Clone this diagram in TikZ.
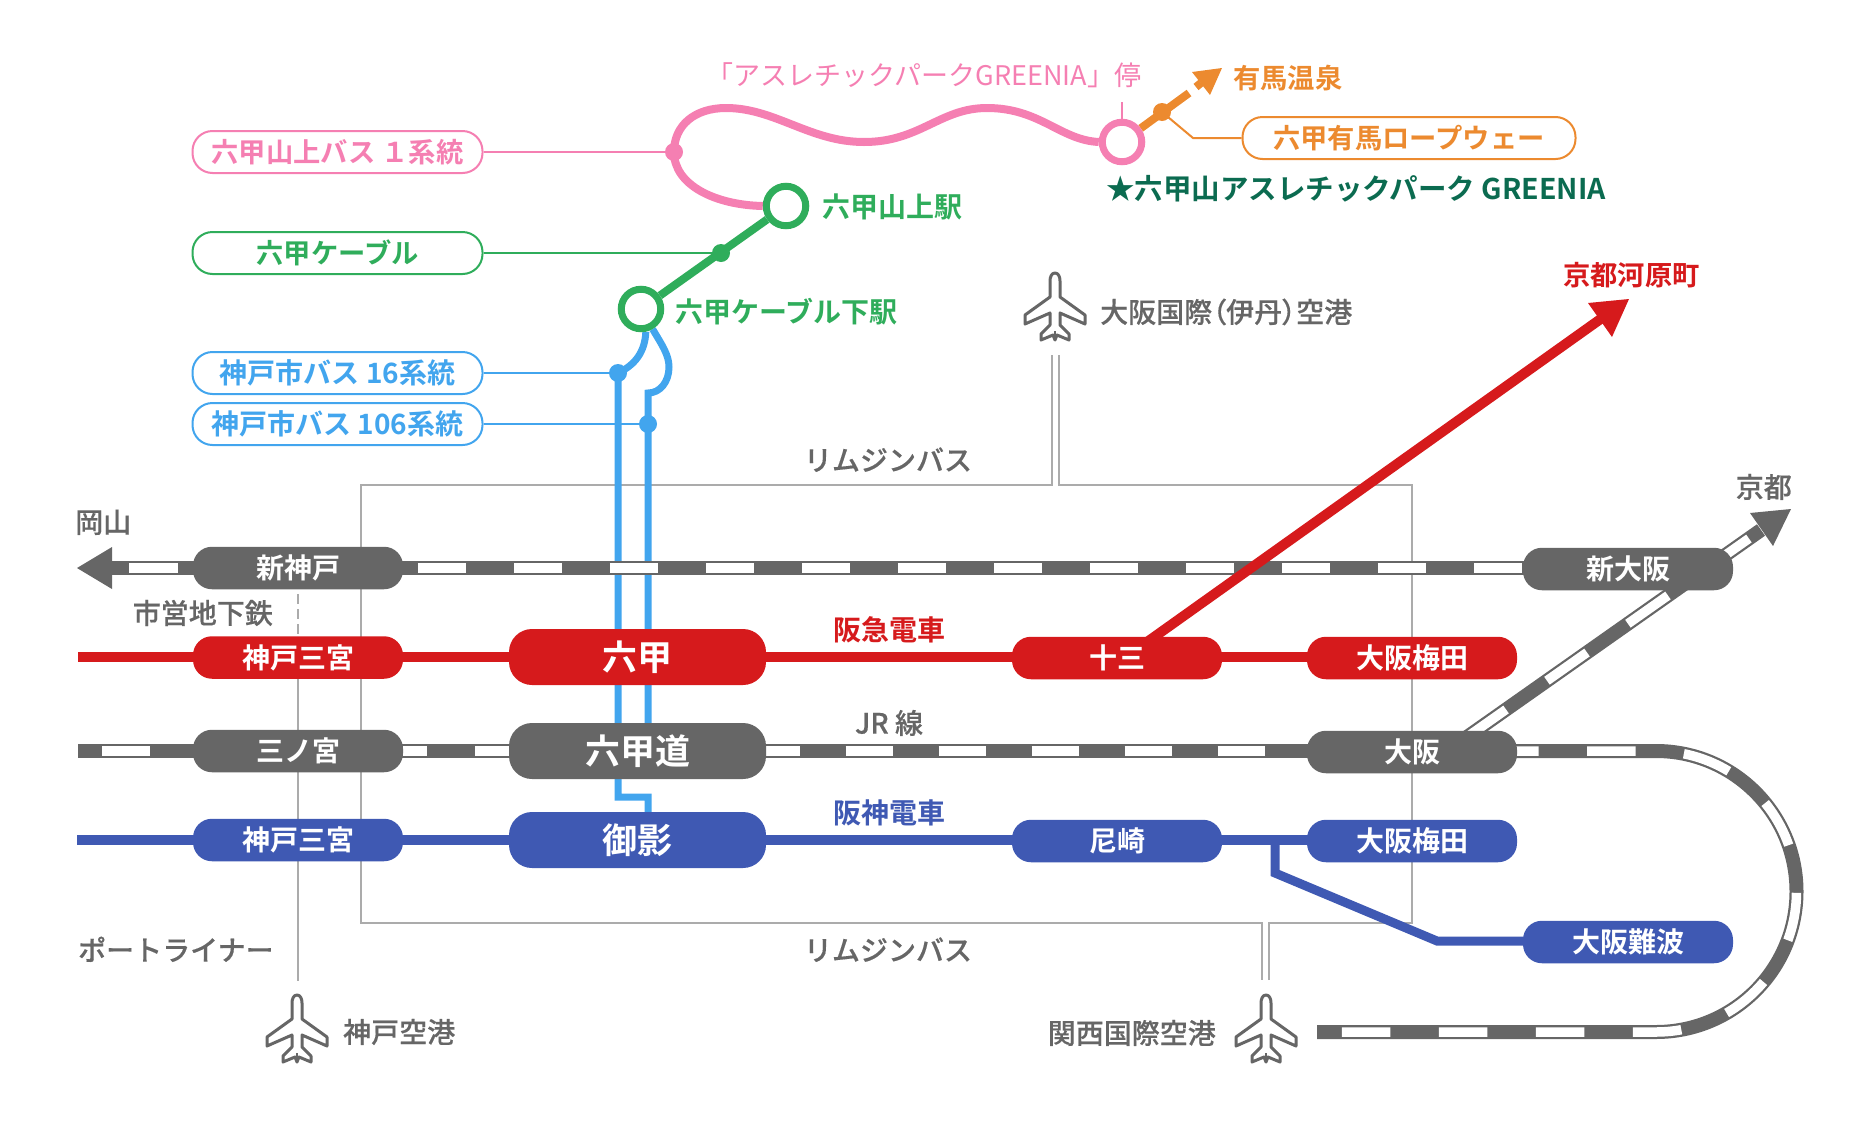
\documentclass[tikz,border=0pt]{standalone}
\usepackage{fontspec}
\setmainfont{Noto Sans CJK JP}
\newfontfamily\medf[FakeBold=0.3]{Noto Sans CJK JP Medium}
\newfontfamily\medp[FakeBold=0.3,RawFeature=+palt]{Noto Sans CJK JP Medium}
\newfontfamily\boldf{Noto Sans CJK JP Bold}
\definecolor{cgray}{HTML}{666666}
\definecolor{cbox}{HTML}{ABABAB}
\definecolor{cred}{HTML}{D61A1C}
\definecolor{cblue}{HTML}{3F59B3}
\definecolor{csky}{HTML}{42A5EE}
\definecolor{cgreen}{HTML}{2FAD5B}
\definecolor{cpink}{HTML}{F57FB2}
\definecolor{corange}{HTML}{EC8A2F}
\definecolor{cdeep}{HTML}{0B6B50}
\pgfdeclarelayer{boxl}\pgfdeclarelayer{busl}\pgfdeclarelayer{raill}
\pgfsetlayers{boxl,busl,raill,main}
\tikzset{
  fa/.style={font=\boldf\fontsize{28pt}{28pt}\selectfont,inner sep=0pt,text height=24.6pt,text depth=3.4pt},
  fb/.style={font=\boldf\fontsize{27.3pt}{27.3pt}\selectfont},
  fm/.style={font=\medf\fontsize{28pt}{28pt}\selectfont,inner sep=0pt,text height=24.6pt,text depth=3.4pt},
  fl/.style={font=\fontsize{27pt}{27pt}\selectfont,inner sep=0pt,text height=23.8pt,text depth=3.2pt},
  spill/.style={fa,text=white,minimum width=210pt,minimum height=42.5pt,rounded corners=19pt},
  bpill/.style={font=\boldf\fontsize{35pt}{35pt}\selectfont,inner sep=0pt,text height=30.8pt,text depth=4.2pt,text=white,minimum width=257pt,minimum height=56pt,rounded corners=23pt},
  opill/.style={fa,draw=#1,text=#1,fill=white,line width=2pt,rounded corners=20pt,minimum height=42pt,minimum width=290pt},
  sta/.style={circle,draw=#1,fill=white,line width=7pt,minimum size=39.5pt,inner sep=0pt},
  dotn/.style={circle,fill=#1,minimum size=18pt,inner sep=0pt},
  railbase/.style={draw=cgray,line width=14pt},
  railwhite/.style={draw=white,line width=9.5pt},
  boxline/.style={draw=cbox,line width=2pt},
  planeicon/.pic={
    \draw[draw=cgray,fill=white,line width=3pt,line join=round]
      (0,0) .. controls (3.5,0) and (5,4) .. (5,8) -- (5,24) -- (30,42) -- (30,51) -- (5,40) -- (5,52) -- (14,61) -- (14,67) -- (2,62) -- (0,67)
      -- (-2,62) -- (-14,67) -- (-14,61) -- (-5,52) -- (-5,40) -- (-30,51) -- (-30,42) -- (-5,24) -- (-5,8) .. controls (-5,4) and (-3.5,0) .. (0,0) -- cycle;
    \draw[draw=cgray,line width=2.5pt] (0,58) -- (0,67);
  },
}
\newcommand{\railline}[3]{\draw[railbase] #3; \draw[railwhite,dash pattern=#1,dash phase=#2] #3;}
\begin{document}
\begin{tikzpicture}[x=1pt,y=-1pt]
\useasboundingbox (0,0) rectangle (1875,1125);
% stations: pills
\node[spill,fill=cgray] (shinkobe) at (298,568) {新神戸};
\node[spill,fill=cgray] (shinosaka) at (1628,569) {新大阪};
\node[spill,fill=cred] (hkkobe) at (298,657.5) {神戸三宮};
\node[bpill,fill=cred] (rokko) at (637.5,657) {六甲};
\node[spill,fill=cred] (juso) at (1117,658) {十三};
\node[spill,fill=cred] (hkumeda) at (1412,658) {大阪梅田};
\node[spill,fill=cgray] (sannomiya) at (298,751) {三ノ宮};
\node[bpill,fill=cgray] (rokkomichi) at (637.5,751) {六甲道};
\node[spill,fill=cgray] (osaka) at (1412,752) {大阪};
\node[spill,fill=cblue] (hskobe) at (298,840) {神戸三宮};
\node[bpill,fill=cblue] (mikage) at (637.5,840) {御影};
\node[spill,fill=cblue] (amagasaki) at (1117,841) {尼崎};
\node[spill,fill=cblue] (hsumeda) at (1412,841) {大阪梅田};
\node[spill,fill=cblue] (namba) at (1628,942) {大阪難波};
% outlined pills
\node[opill=cpink,fb] (busone) at (337.5,152) {六甲山上バス １系統};
\node[opill=cgreen,fb] (cable) at (337.5,253) {六甲ケーブル};
\node[opill=csky] (bussixteen) at (337.5,373) {神戸市バス 16系統};
\node[opill=csky] (busoneosix) at (337.5,424) {神戸市バス 106系統};
\node[opill=corange,fb,minimum width=333pt] (ropeway) at (1409,138) {六甲有馬ロープウェー};
% stops
\node[sta=cgreen] (cablelow) at (641,309) {};
\node[sta=cgreen] (cabletop) at (786,206) {};
\node[sta=cpink] (greenia) at (1122,142) {};
\node[dotn=cpink] (dpink) at (674,152) {};
\node[dotn=cgreen] (dgreen) at (721,253) {};
\node[dotn=csky] (dsixteen) at (618,373) {};
\node[dotn=csky] (doneosix) at (648,424) {};
\node[dotn=corange] (dorange) at (1162,112) {};
% free ends
\coordinate (itamil) at (1051.5,355); \coordinate (itamir) at (1059,355);
\coordinate (kixl) at (1262,980); \coordinate (kixr) at (1268.5,980);
\coordinate (tl) at (361,485); \coordinate (tr) at (1412,485);
\coordinate (bl) at (361,923); \coordinate (br) at (1412,923);
\coordinate (kobeend) at (298,981);
\coordinate (okbase) at (112,568);
\coordinate (kybase) at (1761,530);
\coordinate (diagstart) at (1466,737.7);
\coordinate (jrwest) at (78,751);
\coordinate (jrend) at (1317,1032);
\coordinate (hkwest) at (78,657);
\coordinate (hswest) at (77,840);
\coordinate (redstart) at (1126,657);
\coordinate (redbase) at (1602,318);
\coordinate (orbase) at (1201,83);
\coordinate (orstop) at (1189,93);
\coordinate (jog1) at (618,797); \coordinate (jog2) at (648,797);
\begin{pgfonlayer}{boxl}
  \draw[boxline] (itamil) -- (1051.5,485) -- (tl) -- (bl) -- (1262,923) -- (kixl);
  \draw[boxline] (kixr) -- (1268.5,923) -- (br) -- (tr) -- (1059,485) -- (itamir);
  \draw[boxline] (hkkobe.center) -- (kobeend);
  \draw[boxline,dash pattern=on 10pt off 5pt] (shinkobe.south) ++(0,5) -- (hkkobe.north);
\end{pgfonlayer}
\begin{pgfonlayer}{busl}
  \draw[draw=csky,line width=7pt] (cablelow.-78) .. controls (645,352) and (635,365) .. (dsixteen.center) -- (jog1) -- (jog2) -- (mikage.center -| jog2);
  \draw[draw=csky,line width=7pt] (cablelow.-60) .. controls (662,345) and (669,355) .. (669,367) .. controls (669,382) and (660,393) .. (648,393) -- (doneosix.center) -- (rokkomichi.center -| doneosix);
  \draw[draw=csky,line width=2pt] (bussixteen.east) -- (dsixteen);
  \draw[draw=csky,line width=2pt] (busoneosix.east) -- (doneosix);
\end{pgfonlayer}
\begin{pgfonlayer}{raill}
  \railline{on 48pt off 48pt}{72pt}{(shinkobe.center) -- (shinkobe.center -| shinosaka.center)}
  \railline{on 49pt off 200pt}{129pt}{(shinkobe.center) -- (okbase)}
  \railline{on 48pt off 500pt}{524pt}{(jrwest) -- (sannomiya.center)}
  \railline{on 48pt off 48pt}{15pt}{(sannomiya.center) -- (rokkomichi.center)}
  \railline{on 47pt off 46pt}{71pt}{(rokkomichi.center) -- (rokkomichi.center -| osaka.center)}
  \railline{on 48.5pt off 48.5pt}{19pt}{(rokkomichi.center -| osaka.center) -- (1656,751) .. controls (1733.6,751) and (1796.5,813.9) .. (1796.5,891.5) .. controls (1796.5,969.1) and (1733.6,1032) .. (1656,1032) -- (jrend)}
  \railline{on 49pt off 50pt}{0pt}{(diagstart) -- (kybase)}
  \fill[cgray] (77,568) -- (112,547) -- (112,589) -- cycle;
  \fill[cgray] (1791,509) -- (1750,513) -- (1773,546) -- cycle;
  \draw[draw=cred,line width=10pt] (hkwest) -- (hkwest -| hkumeda.center);
  \draw[draw=cred,line width=10pt] (redstart) -- (redbase);
  \fill[cred] (1629,299) -- (1588,303) -- (1612,337) -- cycle;
  \draw[draw=cblue,line width=10pt] (hswest) -- (hswest -| hsumeda.center);
  \draw[draw=cblue,line width=9pt,line join=miter] (1275,840) -- (1275,873) -- (1437,941) -- (1628,941);
  \draw[draw=cgreen,line width=8pt] (cablelow) -- (cabletop);
  \draw[draw=cgreen,line width=2pt] (cable.east) -- (dgreen);
  \draw[draw=cpink,line width=8pt] (cabletop.west) .. controls (715,205) and (674,185) .. (dpink.center) .. controls (674,125) and (695,108) .. (726,108) .. controls (775,108) and (810,142) .. (864,142) .. controls (920,142) and (940,108) .. (987,108) .. controls (1040,108) and (1060,140) .. (greenia.west);
  \draw[draw=cpink,line width=2pt] (busone.east) -- (dpink);
  \draw[draw=cpink,line width=1.5pt] (greenia.north) -- ++(0,-17);
  \draw[draw=corange,line width=8pt] (greenia) -- (orstop);
  \draw[draw=corange,line width=8pt] (1196,87) -- (orbase);
  \fill[corange] (1222,68) -- (1192,72) -- (1210,95) -- cycle;
  \draw[draw=corange,line width=2pt] (dorange.center) -- (1193,138) -- (ropeway.west);
\end{pgfonlayer}
% planes
\pic at (1055,273) {planeicon};
\pic at (297,995) {planeicon};
\pic at (1266,995) {planeicon};
% labels
\node[fl,text=cpink] (lgreenia) at (924,75) {「アスレチックパークGREENIA」停};
\node[fa,fb,text=corange,anchor=west] (larima) at (1233,78) {有馬温泉};
\node[fa,text=cdeep,anchor=west,font=\boldf\fontsize{28.5pt}{28.5pt}\selectfont] (lstar) at (1106,189) {★六甲山アスレチックパーク GREENIA};
\node[fa,text=cgreen,anchor=west] (ltop) at (822,207) {六甲山上駅};
\node[fa,text=cgreen,anchor=west] (llow) at (675,312) {六甲ケーブル下駅};
\node[fm,text=cgray,anchor=west,font=\medp\fontsize{28pt}{28pt}\selectfont] (litami) at (1100,312) {大阪国際（伊丹）空港};
\node[fa,fb,text=cred,anchor=west] (lkawara) at (1563,275) {京都河原町};
\node[fm,text=cgray] (llimo) at (888,460) {リムジンバス};
\node[fm,text=cgray] (llimob) at (888,950) {リムジンバス};
\node[fm,text=cgray,anchor=west] (lokayama) at (75,522) {岡山};
\node[fm,text=cgray,anchor=east] (lkyoto) at (1792,487) {京都};
\node[fm,text=cgray,anchor=east] (lsubway) at (273,613) {市営地下鉄};
\node[fa,text=cred] (lhankyu) at (889,630) {阪急電車};
\node[fm,text=cgray] (ljr) at (889,723) {JR 線};
\node[fa,text=cblue] (lhanshin) at (889,813) {阪神電車};
\node[fm,text=cgray,anchor=west] (lport) at (78,950) {ポートライナー};
\node[fm,text=cgray,anchor=west] (lkobe) at (343,1032) {神戸空港};
\node[fm,text=cgray,anchor=east] (lkix) at (1216,1033) {関西国際空港};
\end{tikzpicture}
\end{document}
